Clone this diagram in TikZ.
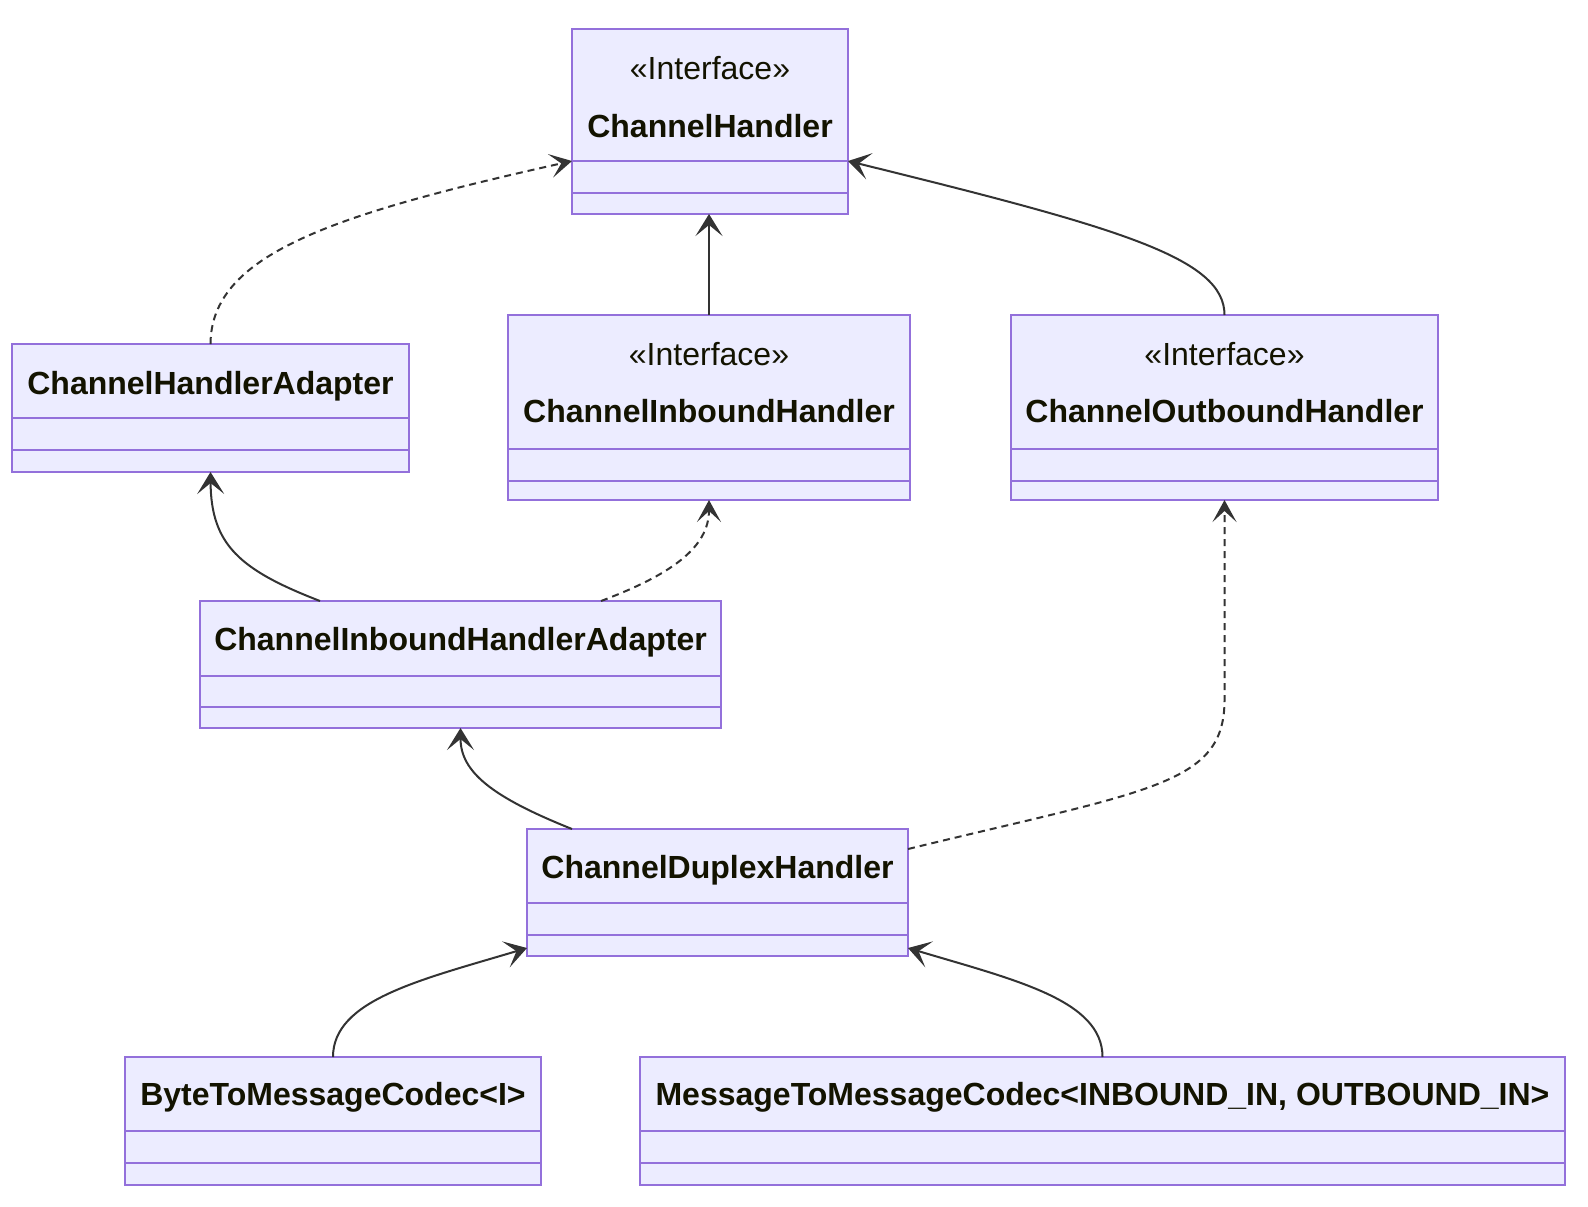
\documentclass[tikz,border=0pt]{standalone}
\usepackage{fontspec}
\setmainfont{Liberation Sans}
\usetikzlibrary{arrows.meta,fit}
\definecolor{boxfill}{HTML}{ECECFF}
\definecolor{boxline}{HTML}{9370DB}
\definecolor{edgecol}{HTML}{333333}
\definecolor{txtcol}{HTML}{131300}
\begin{document}
\begin{tikzpicture}[x=0.5pt,y=-0.5pt,
  cls/.style={draw=boxline, fill=boxfill, line width=1pt, inner sep=0pt, outer sep=0pt, rectangle},
  divline/.style={draw=boxline, line width=1pt},
  clsname/.style={font=\fontsize{16}{19}\selectfont\bfseries, text=txtcol, inner sep=0pt, text height=11.5pt, text depth=0pt},
  stereo/.style={font=\fontsize{16}{19}\selectfont, text=txtcol, inner sep=0pt, text height=11.5pt, text depth=0pt},
  assoc/.style={draw=edgecol, line width=1pt, -{Stealth[length=11pt,width=13.5pt,inset=5.5pt,fill=edgecol]}},
  dep/.style={draw=edgecol, line width=1pt, dash pattern=on 3.5pt off 2.5pt, -{Stealth[length=11pt,width=12pt,inset=5.5pt,fill=edgecol]}},
]
\useasboundingbox (0,0) rectangle (1588,1206);

% ChannelHandler
\node[cls, fit={(572,29) (848,214)}] (ch) {};
\draw[divline] (572,161) -- (848,161);
\draw[divline] (572,193) -- (848,193);
\node[stereo] (chs) at (710,67.5) {«Interface»};
\node[clsname] (chn) at (710,126) {ChannelHandler};

% ChannelHandlerAdapter
\node[cls, fit={(12,344) (409,472)}] (cha) {};
\draw[divline] (12,418) -- (409,418);
\draw[divline] (12,450) -- (409,450);
\node[clsname] (chan) at (210.5,383) {ChannelHandlerAdapter};

% ChannelInboundHandler
\node[cls, fit={(508,315) (910,500)}] (cih) {};
\draw[divline] (508,449) -- (910,449);
\draw[divline] (508,481) -- (910,481);
\node[stereo] (cihs) at (709,354) {«Interface»};
\node[clsname] (cihn) at (709,411) {ChannelInboundHandler};

% ChannelOutboundHandler
\node[cls, fit={(1011,315) (1438,500)}] (coh) {};
\draw[divline] (1011,449) -- (1438,449);
\draw[divline] (1011,481) -- (1438,481);
\node[stereo] (cohs) at (1224.5,354) {«Interface»};
\node[clsname] (cohn) at (1224.5,411) {ChannelOutboundHandler};

% ChannelInboundHandlerAdapter
\node[cls, fit={(200,601) (721,728)}] (ciha) {};
\draw[divline] (200,676) -- (721,676);
\draw[divline] (200,707) -- (721,707);
\node[clsname] (cihan) at (460.5,639) {ChannelInboundHandlerAdapter};

% ChannelDuplexHandler
\node[cls, fit={(527,829) (908,956)}] (cdh) {};
\draw[divline] (527,903) -- (908,903);
\draw[divline] (527,935) -- (908,935);
\node[clsname] (cdhn) at (717.5,867) {ChannelDuplexHandler};

% ByteToMessageCodec
\node[cls, fit={(125,1057) (541,1185)}] (btm) {};
\draw[divline] (125,1131) -- (541,1131);
\draw[divline] (125,1163) -- (541,1163);
\node[clsname] (btmn) at (333,1094) {ByteToMessageCodec<I>};

% MessageToMessageCodec
\node[cls, fit={(640,1057) (1565,1185)}] (mtm) {};
\draw[divline] (640,1131) -- (1565,1131);
\draw[divline] (640,1163) -- (1565,1163);
\node[clsname] (mtmn) at (1102.5,1094) {MessageToMessageCodec<INBOUND\_IN, OUTBOUND\_IN>};

% connectors
\draw[dep] (cha.north) .. controls (211,255) and (330,215) .. (ch.west |- 0,161);
\draw[assoc] (cih.north) -- (cih.north |- ch.south);
\draw[assoc] (coh.north) .. controls (1224.5,258) and (1120,228) .. (ch.east |- 0,161);
\draw[assoc] (ciha.north -| 320,0) .. controls (240,570) and (211,545) .. (cha.south);
\draw[dep] (ciha.north -| 601,0) .. controls (670,575) and (709,548) .. (cih.south);
\draw[assoc] (cdh.north -| 572,0) .. controls (492,797) and (460.5,772) .. (ciha.south);
\draw[dep] (cdh.east |- 0,849) .. controls (1150,790) and (1224.5,785) .. (1224.5,700) -- (coh.south);
\draw[assoc] (btm.north) .. controls (333,1000) and (420,980) .. (cdh.west |- 0,948);
\draw[assoc] (mtm.north) .. controls (1102.5,1000) and (1015,980) .. (cdh.east |- 0,948);
\end{tikzpicture}
\end{document}
